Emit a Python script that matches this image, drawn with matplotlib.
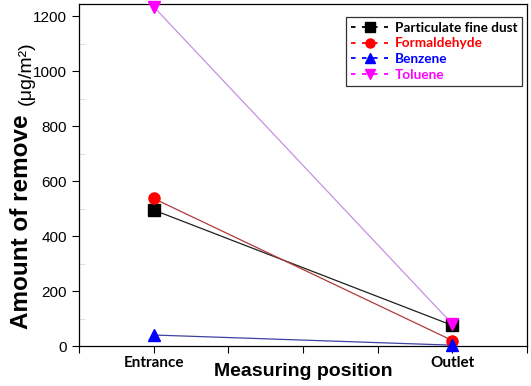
import matplotlib
matplotlib.use("Agg")
import matplotlib.pyplot as plt
from matplotlib.ticker import MultipleLocator, FixedLocator

positions = ["Entrance", "Outlet"]
x_pos = [1, 2]
series_names = ["Particulate fine dust", "Formaldehyde", "Benzene", "Toluene"]
dust = [495, 75]
formaldehyde = [537, 20]
benzene = [40, 3]
toluene = [1235, 80]

fig = plt.figure(figsize=(5.31, 3.86), dpi=100)
ax = fig.add_axes([79/531, 40/386, 448/531, 342/386])

styles = [
    (dust, "s", "black", "#202020"),
    (formaldehyde, "o", "red", "#b03a3a"),
    (benzene, "^", "blue", "#4040a0"),
    (toluene, "v", "magenta", "#c890e0"),
]
handles = []
for (vals, m, mc, lc), name in zip(styles, series_names):
    ax.plot(x_pos, vals, color=lc, lw=0.9, zorder=2)
    ax.plot(x_pos, vals, ls="none", marker=m, ms=8, color=mc, zorder=3, clip_on=False)
    h, = ax.plot([], [], ls="--", dashes=(2.5, 3.6), marker=m, ms=6.5, color=mc, lw=1.3, label=name)
    handles.append(h)

ax.set_xlim(0.75, 2.25)
ax.set_ylim(0, 1245)
ax.xaxis.set_major_locator(FixedLocator([0.75, 1, 1.25, 1.5, 1.75, 2, 2.25]))
ax.set_xticklabels(["", "Entrance", "", "", "", "Outlet", ""],
                   fontsize=11, fontweight="bold", family="Lato")
ax.yaxis.set_major_locator(MultipleLocator(200))
ax.yaxis.set_minor_locator(MultipleLocator(100))
ax.tick_params(axis="y", which="major", direction="out", length=5, labelsize=11, width=0.8)
ax.tick_params(axis="y", which="minor", direction="in", length=4, color="#dddddd")
ax.tick_params(axis="x", which="major", direction="out", length=5, width=0.8, pad=2)
for lab in ax.get_yticklabels():
    lab.set_family("Liberation Sans")
for sp in ax.spines.values():
    sp.set_linewidth(0.9)

fig.text(303/531, 1 - 372/386, "Measuring position", ha="center", va="center",
         fontsize=14, fontweight="bold", family="Liberation Sans")
fig.text(22/531, 1 - 222/386, "Amount of remove", ha="center", va="center",
         rotation=90, fontsize=17.5, fontweight="bold", family="Liberation Sans")
fig.text(26/531, 1 - 73/386, "(\u03bcg/m\u00b2)", ha="center", va="center",
         rotation=90, fontsize=14, family="Liberation Sans")

leg = ax.legend(handles=handles, loc="upper right", bbox_to_anchor=(0.989, 0.962),
                borderaxespad=0, frameon=True, fancybox=False, edgecolor="black",
                handlelength=2.7, handletextpad=0.5, borderpad=0.35, labelspacing=0.27,
                prop={"family": "Lato", "weight": "bold", "size": 9.8})
leg.get_frame().set_linewidth(0.9)
for txt, c in zip(leg.get_texts(), ["black", "red", "blue", "magenta"]):
    txt.set_color(c)

fig.savefig("out.png", dpi=100)
